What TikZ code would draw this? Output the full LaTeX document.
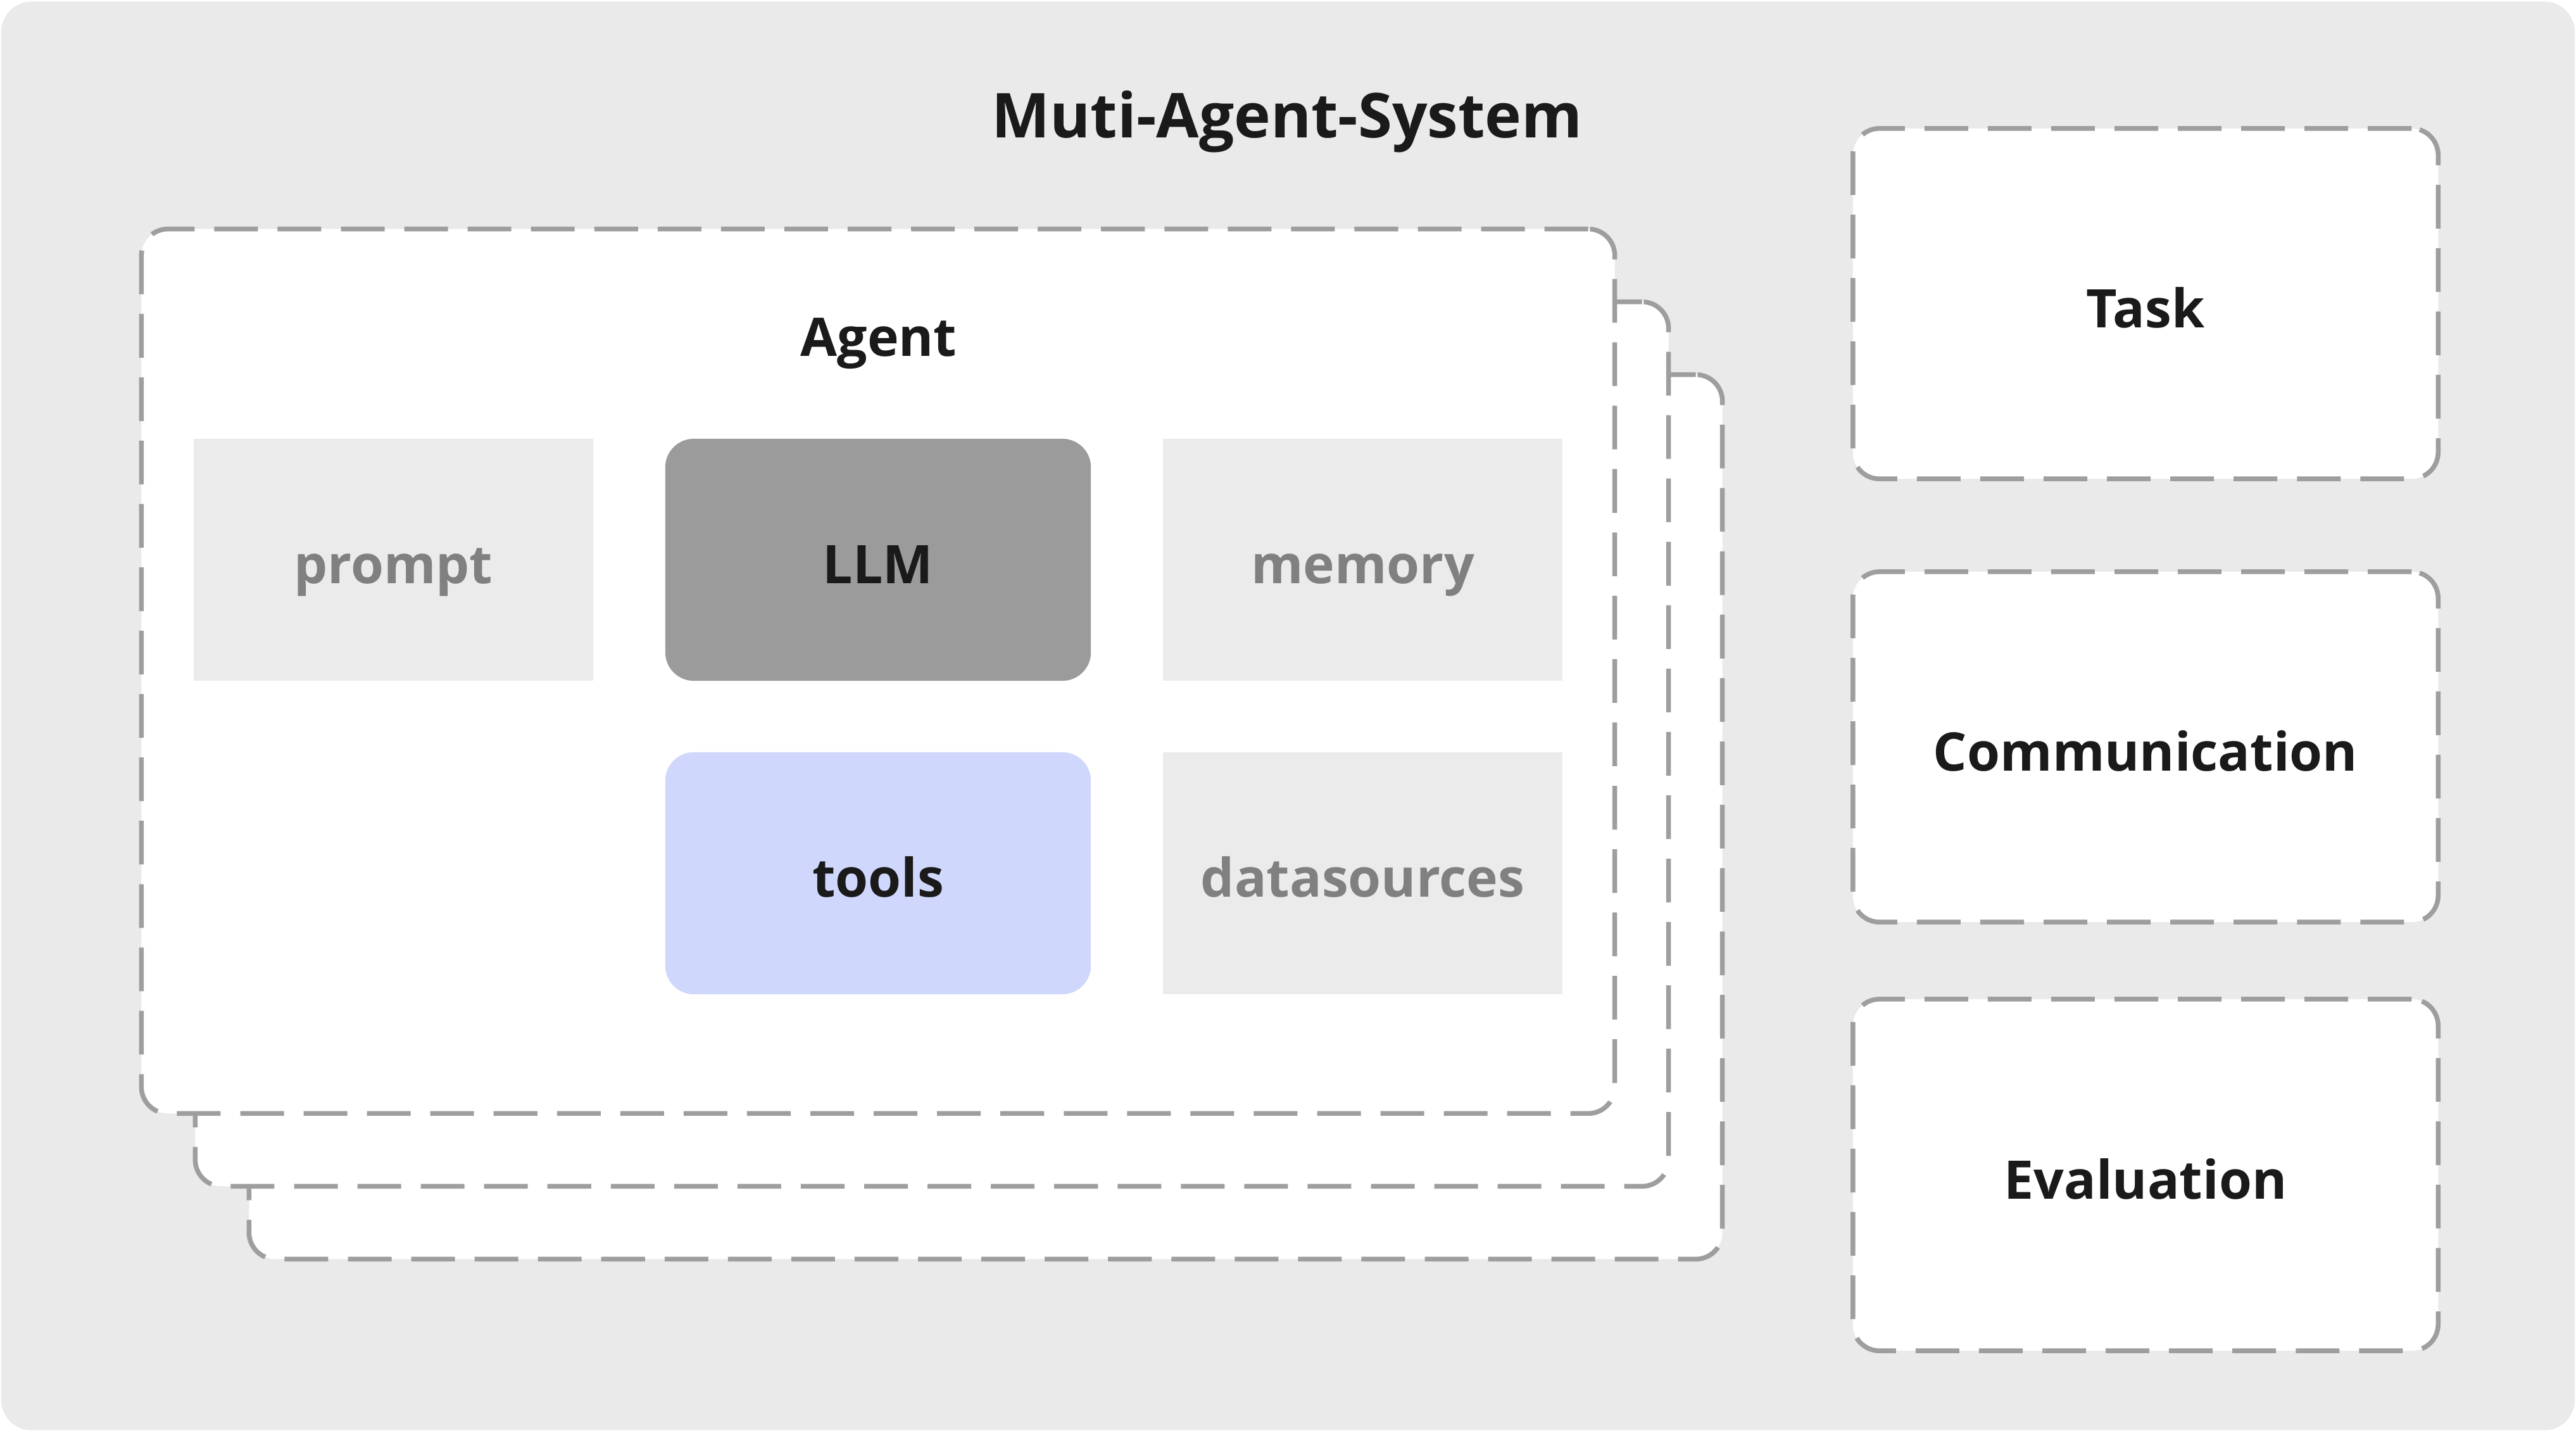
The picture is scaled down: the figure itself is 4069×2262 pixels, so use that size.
\documentclass[tikz,border=0pt]{standalone}
\usepackage{fontspec}
\setmainfont{Open Sans}
\definecolor{bgc}{HTML}{EAEAEA}
\definecolor{dashc}{HTML}{9E9E9E}
\definecolor{lightc}{HTML}{EBEBEB}
\definecolor{llmc}{HTML}{9B9B9B}
\definecolor{toolc}{HTML}{D0D7FC}
\definecolor{darkt}{HTML}{1A1A1A}
\definecolor{greyt}{HTML}{808080}
\begin{document}
\begin{tikzpicture}[x=0.01cm,y=-0.01cm,
  bgbox/.style={fill=bgc, rounded corners=0.48cm, inner sep=0pt},
  dashbox/.style={draw=dashc, line width=0.075cm, dash pattern=on 0.69cm off 0.31cm, fill=white, rounded corners=0.42cm, inner sep=0pt},
  lbl/.style={font=\bfseries\fontsize{23.9}{29}\selectfont, text height=0.75cm, text depth=0pt, inner sep=0pt},
  agentbox/.style={dashbox, minimum width=23.26cm, minimum height=13.96cm},
  sidebox/.style={dashbox, lbl, text=darkt, minimum width=9.24cm, minimum height=5.53cm},
  greybox/.style={lbl, fill=lightc, text=greyt, minimum width=6.31cm, minimum height=3.81cm},
  corebox/.style={lbl, text=darkt, rounded corners=0.45cm, minimum width=6.72cm, minimum height=3.82cm}]
\useasboundingbox (0,0) rectangle (4069,2262);
\node[bgbox, minimum width=40.63cm, minimum height=22.55cm] (bg) at (2034.5,1130.5) {};
\node[font=\bfseries\fontsize{27.8}{33}\selectfont, text=darkt, anchor=base] (title) at (2033,217) {Muti-Agent-System};
% stacked agents
\node[agentbox] (agent3) at (1557,1290) {};
\node[agentbox] (agent2) at (1472,1175) {};
\node[agentbox] (agent1) at (1387,1060) {};
\node[font=\bfseries\fontsize{23.9}{29}\selectfont, text=darkt, anchor=base] (agentlbl) at (1388,562) {Agent};
% components
\node[greybox] (prompt) at (621.5,884) {prompt};
\node[corebox, fill=llmc] (llm) at (1387,884) {LLM};
\node[greybox] (memory) at (2152.5,884) {memory};
\node[corebox, fill=toolc] (tools) at (1387,1379) {tools};
\node[greybox] (data) at (2152.5,1379) {datasources};
% right column
\node[sidebox] (task) at (3389,479.5) {Task};
\node[sidebox] (comm) at (3389,1179.5) {Communication};
\node[sidebox, minimum height=5.55cm] (eval) at (3389,1855.5) {Evaluation};
\end{tikzpicture}
\end{document}
